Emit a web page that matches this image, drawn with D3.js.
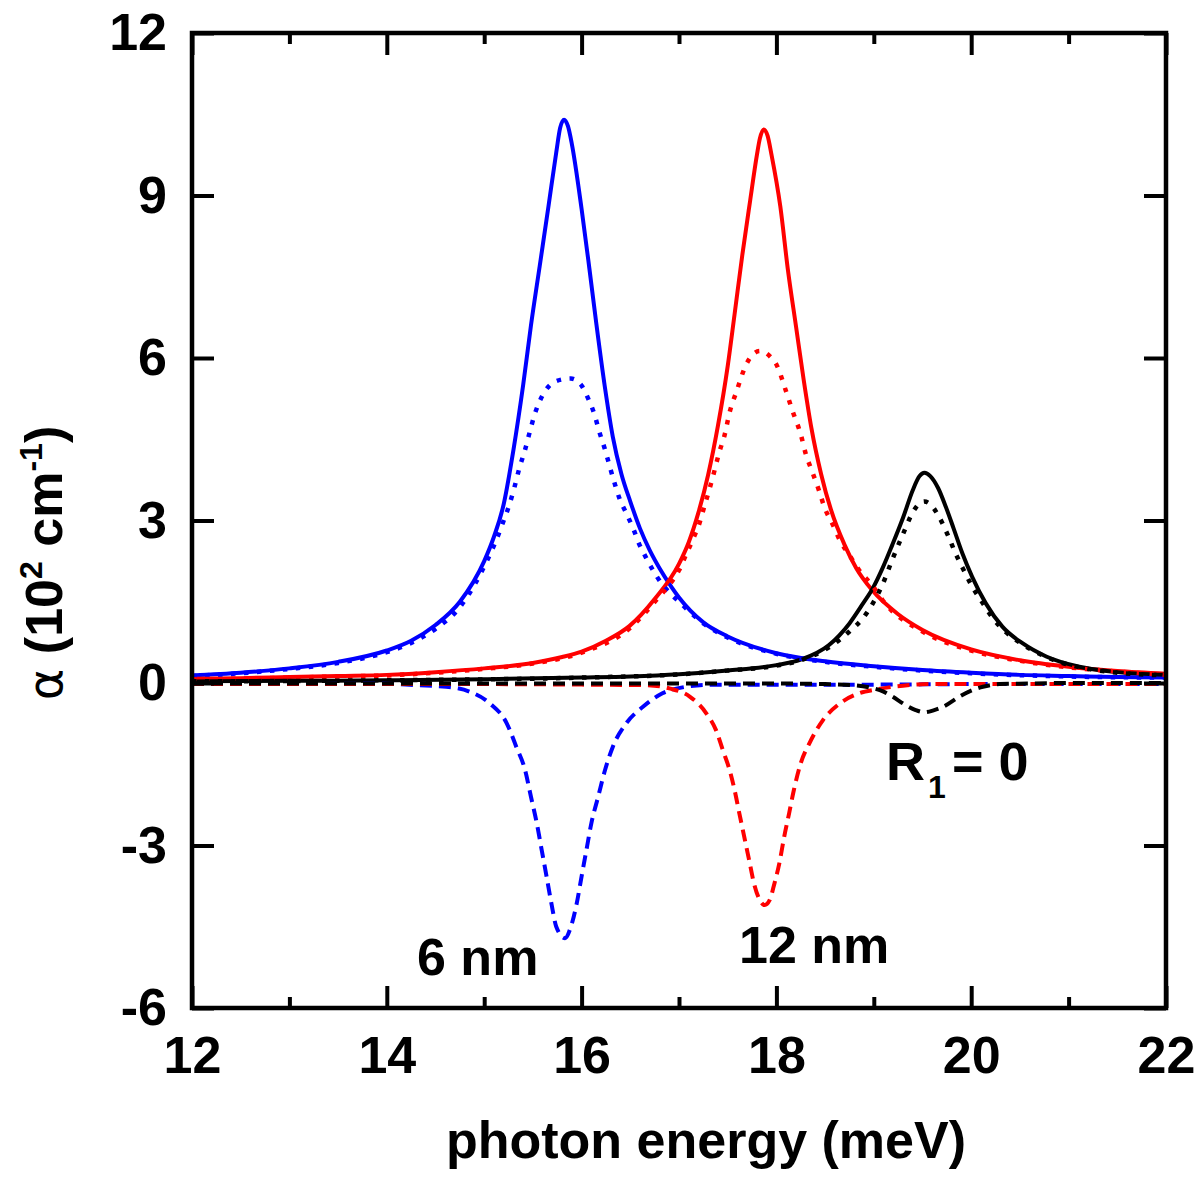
<!DOCTYPE html>
<html>
<head>
<meta charset="utf-8">
<script src="https://cdn.jsdelivr.net/npm/d3@7"></script>
<style>
  body { margin: 0; background: #fff; }
  svg text { font-family: "Liberation Sans", Arial, Helvetica, sans-serif; font-weight: bold; fill: #000; }
</style>
</head>
<body>
<div id="chart"></div>
<script>
// values: [photon energy (meV), alpha (10^2 cm^-1)]
const blueSolid = [[12.0,0.14],[12.5,0.19],[13.0,0.27],[13.5,0.39],[14.0,0.60],[14.25,0.78],[14.5,1.07],[14.75,1.5],[15.0,2.25],[15.1,2.7],[15.2,3.3],[15.3,4.3],[15.4,5.5],[15.48,6.6],[15.57,7.7],[15.66,8.8],[15.74,9.8],[15.78,10.25],[15.82,10.4],[15.86,10.28],[15.9,9.95],[16.0,8.75],[16.08,7.65],[16.15,6.65],[16.24,5.45],[16.32,4.55],[16.41,3.85],[16.5,3.35],[16.6,2.85],[16.7,2.45],[16.8,2.12],[16.92,1.78],[17.0,1.58],[17.25,1.12],[17.5,0.86],[18.0,0.55],[18.5,0.4],[19.0,0.31],[19.5,0.24],[20.0,0.19],[20.5,0.15],[21.0,0.13],[21.5,0.11],[22.0,0.1]];
const blueDotted = [[12.0,0.13],[12.5,0.18],[13.0,0.26],[13.5,0.37],[14.0,0.57],[14.25,0.74],[14.5,1.0],[14.75,1.4],[15.04,2.3],[15.12,2.62],[15.19,2.95],[15.26,3.3],[15.31,3.61],[15.36,3.96],[15.42,4.31],[15.47,4.65],[15.52,4.97],[15.59,5.28],[15.67,5.49],[15.79,5.6],[15.89,5.62],[16.0,5.49],[16.07,5.24],[16.13,4.97],[16.18,4.65],[16.24,4.31],[16.29,3.99],[16.34,3.68],[16.39,3.4],[16.46,3.13],[16.53,2.85],[16.59,2.57],[16.66,2.32],[16.73,2.09],[16.82,1.84],[16.9,1.67],[17.0,1.5],[17.25,1.1],[17.5,0.84],[18.0,0.54],[18.5,0.39],[19.0,0.3],[19.5,0.23],[20.0,0.18],[21.0,0.12],[22.0,0.1]];
const blueDashed = [[12.0,-0.02],[13.0,-0.02],[13.93,-0.01],[14.3,-0.04],[14.61,-0.07],[14.85,-0.16],[15.06,-0.38],[15.23,-0.74],[15.33,-1.18],[15.42,-1.61],[15.48,-2.1],[15.54,-2.59],[15.59,-3.08],[15.64,-3.57],[15.69,-4.07],[15.74,-4.5],[15.83,-4.71],[15.89,-4.5],[15.95,-4.07],[16.0,-3.57],[16.05,-3.08],[16.1,-2.59],[16.17,-2.1],[16.24,-1.61],[16.32,-1.18],[16.46,-0.74],[16.63,-0.44],[16.83,-0.19],[17.07,-0.07],[17.35,-0.03],[18.0,-0.03],[19.0,-0.03],[20.0,-0.02],[21.0,-0.02],[22.0,-0.02]];

const redSolid = [[12.0,0.08],[12.5,0.09],[13.0,0.11],[13.5,0.13],[14.0,0.15],[14.5,0.2],[15.0,0.27],[15.5,0.37],[15.8,0.48],[16.0,0.58],[16.25,0.78],[16.49,1.05],[16.75,1.55],[17.0,2.2],[17.1,2.6],[17.2,3.15],[17.3,3.85],[17.4,4.75],[17.5,5.85],[17.57,6.8],[17.65,7.9],[17.73,8.9],[17.8,9.75],[17.83,10.05],[17.87,10.22],[17.91,10.1],[17.95,9.75],[18.04,8.8],[18.12,7.6],[18.2,6.6],[18.28,5.6],[18.36,4.7],[18.46,3.85],[18.56,3.2],[18.7,2.55],[18.82,2.12],[18.98,1.72],[19.25,1.27],[19.5,0.98],[20.0,0.62],[20.5,0.42],[21.0,0.3],[21.5,0.22],[22.0,0.17]];
const redDotted = [[12.0,0.07],[12.5,0.08],[13.0,0.1],[13.5,0.12],[14.0,0.14],[14.5,0.19],[15.0,0.26],[15.5,0.36],[16.0,0.56],[16.5,1.02],[16.8,1.6],[16.9,1.81],[17.0,2.08],[17.07,2.36],[17.14,2.64],[17.21,2.95],[17.26,3.26],[17.31,3.56],[17.36,3.89],[17.41,4.24],[17.47,4.59],[17.52,5.0],[17.59,5.38],[17.69,5.88],[17.83,6.13],[17.95,6.0],[18.0,5.88],[18.1,5.38],[18.17,5.0],[18.25,4.59],[18.3,4.24],[18.37,3.89],[18.44,3.54],[18.49,3.26],[18.58,2.92],[18.65,2.64],[18.75,2.36],[18.85,2.08],[18.98,1.81],[19.12,1.46],[19.5,0.95],[20.0,0.6],[20.5,0.41],[21.0,0.29],[21.5,0.21],[22.0,0.15]];
const redDashed = [[12.0,-0.02],[13.0,-0.02],[14.0,-0.02],[15.0,-0.02],[16.0,-0.03],[16.66,-0.04],[16.9,-0.1],[17.11,-0.25],[17.28,-0.56],[17.38,-0.87],[17.45,-1.24],[17.52,-1.61],[17.57,-1.97],[17.62,-2.41],[17.67,-2.84],[17.72,-3.27],[17.77,-3.7],[17.83,-4.01],[17.88,-4.1],[17.93,-4.01],[17.98,-3.7],[18.03,-3.33],[18.08,-2.84],[18.13,-2.41],[18.18,-1.97],[18.25,-1.48],[18.34,-1.11],[18.48,-0.68],[18.65,-0.38],[18.85,-0.19],[19.02,-0.12],[19.3,-0.05],[19.57,-0.02],[20.0,-0.02],[21.0,-0.02],[22.0,-0.02]];

const blackSolid = [[12.0,0.03],[13.0,0.04],[14.0,0.05],[15.0,0.07],[16.0,0.1],[16.5,0.12],[17.0,0.16],[17.5,0.23],[18.0,0.33],[18.25,0.43],[18.54,0.7],[18.75,1.1],[18.89,1.47],[18.99,1.75],[19.09,2.12],[19.19,2.55],[19.3,3.05],[19.4,3.56],[19.47,3.82],[19.52,3.88],[19.58,3.82],[19.66,3.6],[19.74,3.25],[19.82,2.85],[19.91,2.39],[20.01,1.96],[20.15,1.47],[20.32,1.04],[20.53,0.73],[20.77,0.49],[21.11,0.3],[21.45,0.21],[22.0,0.15]];
const blackDotted = [[12.0,0.03],[14.0,0.05],[16.0,0.1],[17.0,0.16],[17.5,0.23],[18.0,0.32],[18.25,0.42],[18.54,0.66],[18.75,0.95],[18.89,1.2],[18.99,1.47],[19.09,1.82],[19.19,2.28],[19.3,2.75],[19.4,3.15],[19.46,3.3],[19.52,3.35],[19.58,3.3],[19.66,3.1],[19.76,2.73],[19.84,2.39],[19.93,2.06],[20.01,1.78],[20.12,1.47],[20.22,1.2],[20.35,0.95],[20.53,0.71],[20.77,0.48],[21.11,0.29],[21.45,0.2],[22.0,0.14]];
const blackDashed = [[12.0,-0.01],[14.0,-0.01],[16.0,-0.01],[17.0,-0.01],[18.0,-0.01],[18.5,-0.02],[18.8,-0.04],[18.95,-0.08],[19.1,-0.16],[19.19,-0.25],[19.33,-0.41],[19.43,-0.5],[19.52,-0.54],[19.62,-0.5],[19.71,-0.44],[19.88,-0.25],[20.0,-0.14],[20.12,-0.07],[20.29,-0.02],[20.6,-0.01],[21.0,0.0],[22.0,0.0]];

const xMajor = [12, 14, 16, 18, 20, 22];
const xMinor = [13, 15, 17, 19, 21];
const yMajor = [-6, -3, 0, 3, 6, 9, 12];

const width = 1200, height = 1179;
const plot = { left: 192, right: 1166, top: 33, bottom: 1008 };

const svg = d3.select('#chart').append('svg')
  .attr('width', width)
  .attr('height', height);

const x = d3.scaleLinear().domain([12, 22]).range([plot.left, plot.right]);
const y = d3.scaleLinear().domain([-6, 12]).range([plot.bottom, plot.top]);

svg.append('clipPath').attr('id', 'clip')
  .append('rect')
  .attr('x', plot.left).attr('y', plot.top)
  .attr('width', plot.right - plot.left).attr('height', plot.bottom - plot.top);

const line = d3.line()
  .x(d => x(d[0]))
  .y(d => y(d[1]))
  .curve(d3.curveMonotoneX);

const series = [
  { data: blueSolid, color: '#0000ff', dash: null, w: 4 },
  { data: redSolid, color: '#ff0000', dash: null, w: 4 },
  { data: blackSolid, color: '#000000', dash: null, w: 4 },
  { data: blueDotted, color: '#0000ff', dash: '4.5 8.5', w: 4.5 },
  { data: redDotted, color: '#ff0000', dash: '4.5 8.5', w: 4.5 },
  { data: blackDotted, color: '#000000', dash: '4.5 8.5', w: 4.5 },
  { data: blueDashed, color: '#0000ff', dash: '12 7', w: 4 },
  { data: redDashed, color: '#ff0000', dash: '12 7', w: 4 },
  { data: blackDashed, color: '#000000', dash: '12 7', w: 4 }
];

const curves = svg.append('g').attr('clip-path', 'url(#clip)');
series.forEach(s => {
  curves.append('path')
    .datum(s.data)
    .attr('fill', 'none')
    .attr('stroke', s.color)
    .attr('stroke-width', s.w)
    .attr('stroke-dasharray', s.dash)
    .attr('d', line);
});

// axes, ticks pointing inwards on all four sides
const fontSize = 52;
svg.append('g')
  .attr('transform', `translate(0,${plot.bottom})`)
  .call(d3.axisBottom(x).tickValues(xMajor).tickSize(-22).tickSizeOuter(0).tickPadding(28).tickFormat(d3.format('d')));
svg.append('g')
  .attr('transform', `translate(${plot.left},0)`)
  .call(d3.axisLeft(y).tickValues(yMajor).tickSize(-22).tickSizeOuter(0).tickPadding(25).tickFormat(d => d < 0 ? '-' + Math.abs(d) : d));
svg.append('g')
  .attr('transform', `translate(0,${plot.top})`)
  .call(d3.axisTop(x).tickValues(xMajor).tickSize(-22).tickSizeOuter(0).tickFormat(''));
svg.append('g')
  .attr('transform', `translate(${plot.right},0)`)
  .call(d3.axisRight(y).tickValues(yMajor).tickSize(-22).tickSizeOuter(0).tickFormat(''));
svg.append('g')
  .attr('transform', `translate(0,${plot.bottom})`)
  .call(d3.axisBottom(x).tickValues(xMinor).tickSize(-11).tickSizeOuter(0).tickFormat(''));
svg.append('g')
  .attr('transform', `translate(0,${plot.top})`)
  .call(d3.axisTop(x).tickValues(xMinor).tickSize(-11).tickSizeOuter(0).tickFormat(''));

svg.selectAll('.domain').remove();
svg.selectAll('.tick line').attr('stroke', '#000').attr('stroke-width', 4);
svg.selectAll('.tick text')
  .style('font-size', fontSize + 'px')
  .style('font-family', '"Liberation Sans", Arial, sans-serif')
  .style('font-weight', 'bold')
  .attr('fill', '#000');

svg.append('rect')
  .attr('x', plot.left).attr('y', plot.top)
  .attr('width', plot.right - plot.left).attr('height', plot.bottom - plot.top)
  .attr('fill', 'none')
  .attr('stroke', '#000')
  .attr('stroke-width', 4.5);

// axis titles
svg.append('text')
  .attr('x', (plot.left + plot.right) / 2 + 27)
  .attr('y', 1158)
  .attr('text-anchor', 'middle')
  .style('font-size', '52px')
  .text('photon energy (meV)');

const yTitle = svg.append('text')
  .attr('transform', 'translate(62,563) rotate(-90)')
  .attr('text-anchor', 'middle')
  .style('font-size', '52px');
yTitle.append('tspan').style('font-weight', 'normal').style('font-family', '"DejaVu Sans", sans-serif').style('font-size', '48px').text('α');
yTitle.append('tspan').text(' (10');
yTitle.append('tspan').attr('dy', -20).style('font-size', '32px').text('2');
yTitle.append('tspan').attr('dy', 20).text(' cm');
yTitle.append('tspan').attr('dy', -20).style('font-size', '32px').text('-1');
yTitle.append('tspan').attr('dy', 20).text(')');

// curve annotations
svg.append('text').attr('x', 417).attr('y', 975).style('font-size', '52px').text('6 nm');
svg.append('text').attr('x', 739).attr('y', 963).style('font-size', '52px').text('12 nm');
svg.append('text').attr('x', 886).attr('y', 780).style('font-size', '54px').text('R');
svg.append('text').attr('x', 928).attr('y', 798).style('font-size', '32px').text('1');
svg.append('text').attr('x', 952).attr('y', 780).style('font-size', '54px').text('= 0');
</script>
</body>
</html>
